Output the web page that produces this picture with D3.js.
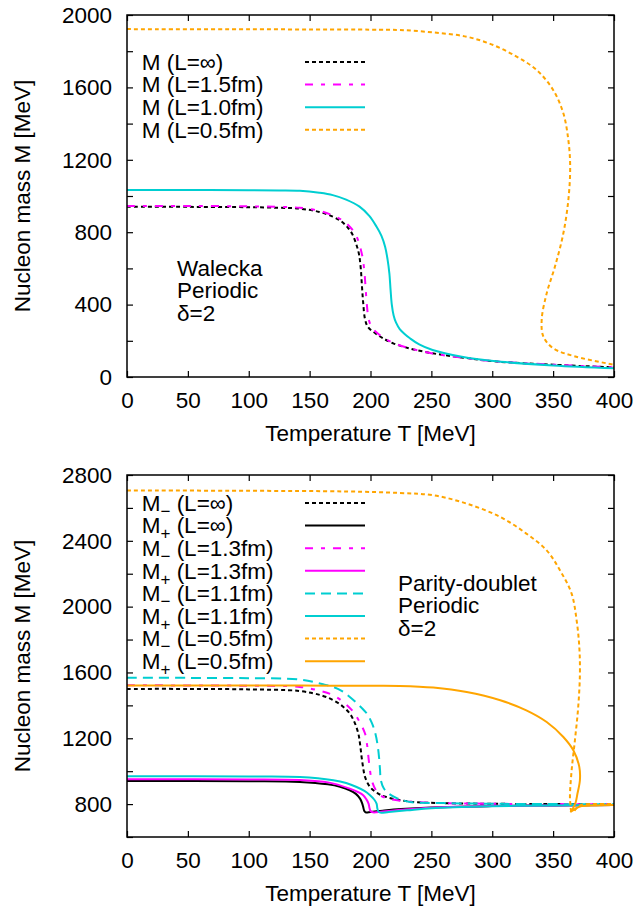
<!DOCTYPE html>
<html><head><meta charset="utf-8">
<script src="https://cdn.jsdelivr.net/npm/d3@7"></script>
<style>body{margin:0;background:#fff}svg text{font-family:"Liberation Sans",Arial,Helvetica,sans-serif;fill:#000}</style>
</head><body><svg id="chart" width="638" height="909"></svg>
<script>
// ---------- DATA ----------
const xTickValues = [0, 50, 100, 150, 200, 250, 300, 350, 400];
const topYTicks = [0, 200, 400, 600, 800, 1000, 1200, 1400, 1600, 1800, 2000];
const topYLabels = [0, 400, 800, 1200, 1600, 2000];
const botYTicks = [600, 800, 1000, 1200, 1400, 1600, 1800, 2000, 2200, 2400, 2600, 2800];
const botYLabels = [800, 1200, 1600, 2000, 2400, 2800];

// Top panel: Walecka, periodic, delta=2
const walInfT = [0, 50, 100, 125, 142, 158, 169, 176, 181, 185, 188, 190.5, 192, 193, 194, 195.5, 198, 203.7, 210, 218.7, 232, 251, 275, 301, 350, 400];
const walInfM = [940, 940, 938, 935, 930, 912, 886, 860, 828, 790, 740, 680, 600, 500, 410, 320, 275, 243, 215, 186, 158, 131, 108, 87, 68, 53];
const wal15T = [0, 50, 100, 125, 142, 158, 169, 177, 183, 188, 191, 193.5, 195, 196, 197, 198.5, 201, 206, 212, 220, 233, 251, 275, 301, 350, 400];
const wal15M = [945, 945, 943, 940, 935, 918, 893, 865, 830, 785, 730, 660, 580, 490, 400, 320, 275, 240, 212, 185, 157, 130, 107, 87, 68, 53];
const wal10T = [0, 50, 100, 125, 142, 158, 169, 180, 191, 199, 205, 209, 212, 214, 215.5, 216.5, 217.5, 219, 221, 224, 228, 232.4, 240, 251, 275, 301, 350, 400];
const wal10M = [1033, 1033, 1032, 1031, 1029, 1018, 1005, 980, 941, 890, 830, 780, 720, 650, 573, 480, 400, 340, 300, 265, 238, 214, 180, 149, 112, 88, 64, 48];
const wal05T = [0, 100, 200, 224, 251, 279, 300.8, 320, 336.5, 350, 358.4, 362.5, 364, 362.5, 358.4, 351.5, 344.7, 340.6, 342, 350, 369, 400];
const wal05M = [1922, 1921, 1919, 1917, 1904, 1880, 1834, 1770, 1696, 1586, 1457, 1309, 1162, 978, 794, 610, 462, 315, 223, 159, 112, 68];
const topLabels = ["M (L=\u221e)", "M (L=1.5fm)", "M (L=1.0fm)", "M (L=0.5fm)"];
const topNote = ["Walecka", "Periodic", "\u03b4=2"];

// Bottom panel: parity doublet, periodic, delta=2
const pdMmInfT = [0, 50, 100, 142, 160, 169.5, 177, 183, 187, 190, 191.5, 192.7, 194, 195.5, 199.6, 206, 213, 232, 260, 300, 350, 400];
const pdMmInfM = [1500, 1500, 1497, 1487, 1460, 1431, 1395, 1350, 1295, 1229, 1160, 1086, 1020, 965, 904, 865, 843, 815, 806, 802, 800, 799];
const pdMpInfT = [0, 100, 142, 165, 175, 183, 188, 191.4, 193, 194, 194.8, 196, 200, 210, 225, 250, 300, 350, 400];
const pdMpInfM = [940, 939, 935, 920, 905, 884, 862, 833, 808, 783, 760, 750, 752, 760, 770, 780, 788, 792, 795];
const pdMm13T = [0, 50, 100, 142, 160, 169.5, 178, 186, 191, 195.5, 197.2, 198.3, 199.5, 201, 204, 208, 215, 232, 260, 300, 350, 400];
const pdMm13M = [1522, 1521, 1519, 1512, 1485, 1461, 1418, 1360, 1300, 1229, 1160, 1086, 1010, 945, 890, 854, 832, 815, 806, 802, 800, 799];
const pdMp13T = [0, 100, 142, 165, 183, 190, 194, 196.5, 198.4, 199.2, 200, 202, 210, 225, 250, 300, 350, 400];
const pdMp13M = [951, 950, 946, 932, 894, 872, 854, 830, 803, 775, 758, 750, 755, 765, 778, 788, 792, 795];
const pdMm11T = [0, 50, 100, 142, 160, 169.5, 177, 183, 190, 197, 201, 204, 205.8, 207, 207.8, 208.5, 211, 215, 222, 232.5, 260, 300, 350, 400];
const pdMm11M = [1568, 1567, 1565, 1557, 1530, 1512, 1485, 1451, 1405, 1350, 1295, 1229, 1160, 1086, 1010, 945, 895, 864, 835, 813, 806, 802, 800, 799];
const pdMp11T = [0, 100, 142, 169.5, 180, 188.6, 195, 199.6, 203, 205, 205.6, 206.5, 208, 215, 230, 250, 300, 350, 400];
const pdMp11M = [969, 968, 965, 945, 928, 904, 880, 854, 828, 803, 775, 755, 748, 752, 762, 775, 787, 792, 795];
const pdMm05T = [0, 100, 180, 224, 251.6, 279, 306.6, 328, 344.7, 355.6, 365.2, 369.3, 371.5, 372, 370.6, 367.9, 365.2, 363.8, 364.3, 364.8, 366.5, 369, 373, 385, 400];
const pdMm05M = [2706, 2704, 2700, 2691, 2677, 2626, 2545, 2444, 2342, 2221, 2079, 1917, 1755, 1593, 1390, 1188, 1005, 843, 790, 760, 752, 775, 795, 800, 800];
const pdMp05T = [0, 100, 142, 200, 224, 251.6, 279, 306.6, 328, 344.7, 358.4, 366.6, 371.5, 372, 370, 368.5, 366, 364.5, 367, 372, 385, 400];
const pdMp05M = [1521, 1520, 1520, 1519, 1518, 1508, 1481, 1431, 1370, 1299, 1208, 1127, 1026, 945, 864, 810, 770, 755, 765, 785, 792, 795];
const botSubs = ["\u2212", "+", "\u2212", "+", "\u2212", "+", "\u2212", "+"];
const botLs = ["(L=\u221e)", "(L=\u221e)", "(L=1.3fm)", "(L=1.3fm)", "(L=1.1fm)", "(L=1.1fm)", "(L=0.5fm)", "(L=0.5fm)"];
const botNote = ["Parity-doublet", "Periodic", "\u03b4=2"];

const xTitle = "Temperature T [MeV]";
const yTitle = "Nucleon mass M [MeV]";

// ---------- STYLES ----------
const BLACK = "#000000", MAG = "#ff00ff", CYAN = "#00ced1", ORANGE = "#ffa500";
const DOT = "4,3", DASHDOT = "8,8,4,8", DASH = "10,6";

const zip = (T, M) => T.map((t, i) => [t, M[i]]);
const topSeries = [
  {pts: zip(walInfT, walInfM), color: BLACK, dash: DOT, label: topLabels[0]},
  {pts: zip(wal15T, wal15M), color: MAG, dash: DASHDOT, label: topLabels[1]},
  {pts: zip(wal10T, wal10M), color: CYAN, dash: null, label: topLabels[2]},
  {pts: zip(wal05T, wal05M), color: ORANGE, dash: DOT, label: topLabels[3]}
];
const botData = [
  [pdMmInfT, pdMmInfM, BLACK, DOT], [pdMpInfT, pdMpInfM, BLACK, null],
  [pdMm13T, pdMm13M, MAG, DASHDOT], [pdMp13T, pdMp13M, MAG, null],
  [pdMm11T, pdMm11M, CYAN, DASH], [pdMp11T, pdMp11M, CYAN, null],
  [pdMm05T, pdMm05M, ORANGE, DOT], [pdMp05T, pdMp05M, ORANGE, null]
];
const botSeries = botData.map((d, i) => ({pts: zip(d[0], d[1]), color: d[2], dash: d[3], sub: botSubs[i], L: botLs[i]}));

const svg = d3.select("#chart");
const FS = 22.5;
const L = 127, R = 614;

function panel(id, yDomain, top, bottom, yTicks, yLabels, series, legendRow0, legendFn, note, noteX, noteY0) {
  const x = d3.scaleLinear().domain([0, 400]).range([L, R]);
  const y = d3.scaleLinear().domain(yDomain).range([bottom, top]);
  const g = svg.append("g");
  g.append("clipPath").attr("id", id).append("rect")
    .attr("x", L).attr("y", top).attr("width", R - L).attr("height", bottom - top);

  const fmtY = v => yLabels.includes(v) ? String(v) : "";
  const styleAxis = a => {
    a.select(".domain").remove();
    a.selectAll("line").attr("stroke", "#000").attr("stroke-width", 1.2);
    a.selectAll("text").style("font-size", FS + "px").attr("fill", "#000");
  };
  g.append("g").attr("transform", `translate(0,${bottom})`)
    .call(d3.axisBottom(x).tickValues(xTickValues).tickSizeInner(-6).tickSizeOuter(0).tickPadding(15).tickFormat(d3.format("d")))
    .call(styleAxis);
  g.append("g").attr("transform", `translate(0,${top})`)
    .call(d3.axisTop(x).tickValues(xTickValues).tickSizeInner(-6).tickSizeOuter(0).tickFormat(""))
    .call(styleAxis);
  g.append("g").attr("transform", `translate(${L},0)`)
    .call(d3.axisLeft(y).tickValues(yTicks).tickSizeInner(-6).tickSizeOuter(0).tickPadding(15).tickFormat(fmtY))
    .call(styleAxis);
  g.append("g").attr("transform", `translate(${R},0)`)
    .call(d3.axisRight(y).tickValues(yTicks).tickSizeInner(-6).tickSizeOuter(0).tickFormat(""))
    .call(styleAxis);

  const line = d3.line().x(d => x(d[0])).y(d => y(d[1])).curve(d3.curveCatmullRom.alpha(0.5));
  const cg = g.append("g").attr("clip-path", `url(#${id})`);
  series.forEach(s => {
    cg.append("path").attr("d", line(s.pts)).attr("fill", "none")
      .attr("stroke", s.color).attr("stroke-width", 2)
      .attr("stroke-dasharray", s.dash);
  });

  // legend
  series.forEach((s, i) => {
    const ry = legendRow0 + i * 22.6;
    g.append("line").attr("x1", 305).attr("x2", 365).attr("y1", ry).attr("y2", ry)
      .attr("stroke", s.color).attr("stroke-width", 2).attr("stroke-dasharray", s.dash);
    legendFn(g, s, ry);
  });

  note.forEach((t, i) => {
    g.append("text").attr("x", noteX).attr("y", noteY0 + i * 22.6).attr("dy", "0.35em")
      .style("font-size", FS + "px").text(t);
  });

  // frame
  g.append("rect").attr("x", L).attr("y", top).attr("width", R - L).attr("height", bottom - top)
    .attr("fill", "none").attr("stroke", "#000").attr("stroke-width", 1.5);

  // titles
  g.append("text").attr("x", (L + R) / 2).attr("y", bottom + 56).attr("dy", "0.35em")
    .attr("text-anchor", "middle").style("font-size", FS + "px").text(xTitle);
  g.append("text").attr("transform", `translate(22,${(top + bottom) / 2}) rotate(-90)`)
    .attr("dy", "0.35em").attr("text-anchor", "middle").style("font-size", FS + "px").text(yTitle);
}

panel("clipTop", [0, 2000], 15, 377, topYTicks, topYLabels, topSeries, 62,
  (g, s, ry) => {
    g.append("text").attr("x", 141.7).attr("y", ry).attr("dy", "0.35em").style("font-size", FS + "px").text(s.label);
  }, topNote, 177, 268);

panel("clipBot", [600, 2800], 475, 837, botYTicks, botYLabels, botSeries, 503,
  (g, s, ry) => {
    const t = g.append("text").attr("x", 141.7).attr("y", ry).attr("dy", "0.35em").style("font-size", FS + "px");
    t.append("tspan").text("M");
    t.append("tspan").attr("dy", 6).style("font-size", "17px").text(s.sub);
    t.append("tspan").attr("dy", -6).style("font-size", FS + "px").text(" " + s.L);
  }, botNote, 398, 583);
</script></body></html>
